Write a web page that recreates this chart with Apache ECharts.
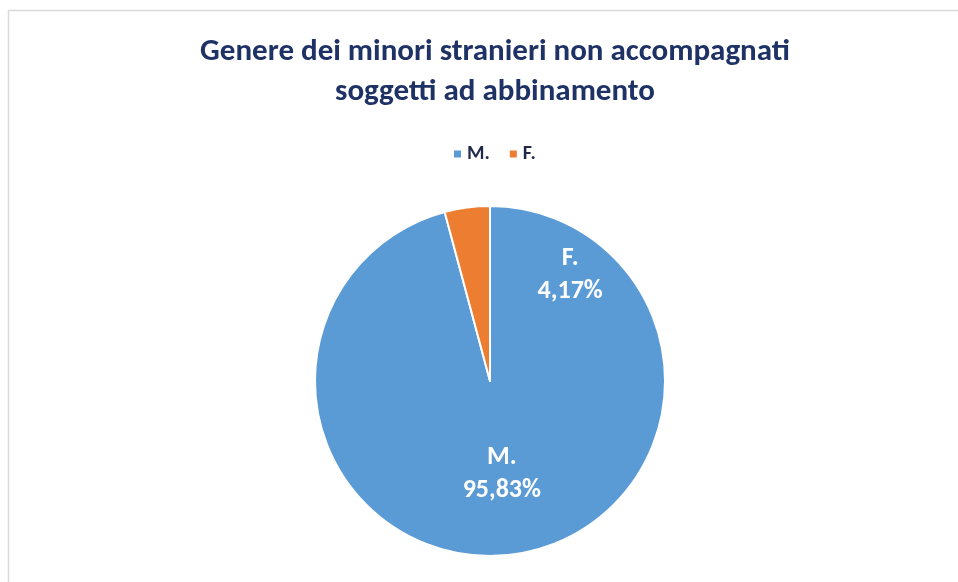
<!DOCTYPE html>
<html>
<head>
<meta charset="utf-8">
<script src="https://cdn.jsdelivr.net/npm/echarts@6/dist/echarts.min.js"></script>
<style>
  html, body { margin: 0; padding: 0; background: #fff; }
  #chart { width: 958px; height: 582px; }
</style>
</head>
<body>
<div id="chart"></div>
<script>
// dati
var categorie = ['M.', 'F.'];
var percentuali = [95.83, 4.17];
var colori = ['#5B9BD5', '#ED7D31'];

var font = 'Carlito, Lato, sans-serif';
var chart = echarts.init(document.getElementById('chart'));

var dati = [];
for (var i = 0; i < categorie.length; i++) {
	dati.push({
		name: categorie[i],
		value: percentuali[i],
		itemStyle: { color: colori[i] }
	});
}
// etichette spostate come nell'originale
dati[0].label = { offset: [0, 3] };
dati[1].label = { offset: [92, -16] };

var option = {
	animation: false,
	graphic: [{
		type: 'rect',
		shape: { x: 8.5, y: 10.5, width: 1000, height: 1000 },
		style: { fill: 'none', stroke: '#d9d9d9', lineWidth: 1.5 },
		silent: true
	}],
	title: {
		text: 'Genere dei minori stranieri non accompagnati\nsoggetti ad abbinamento',
		left: 490,
		top: 27,
		textAlign: 'center',
		textStyle: {
			fontFamily: font,
			fontSize: 31,
			fontWeight: 'bold',
			color: '#1F3266',
			lineHeight: 40
		}
	},
	legend: {
		data: categorie,
		left: 447,
		top: 139,
		icon: 'rect',
		itemWidth: 9,
		itemHeight: 9,
		itemGap: 18,
		textStyle: {
			fontFamily: font,
			fontSize: 20,
			fontWeight: 'bold',
			color: '#1F2A4A'
		}
	},
	series: [{
		type: 'pie',
		center: [490, 381],
		radius: 175,
		startAngle: 90,
		clockwise: true,
		avoidLabelOverlap: false,
		itemStyle: { borderColor: '#fff', borderWidth: 2 },
		label: {
			show: true,
			position: 'inside',
			color: '#fff',
			fontFamily: font,
			fontSize: 26,
			fontWeight: 'bold',
			lineHeight: 33,
			formatter: function (p) {
				return p.name + '\n' + p.value.toFixed(2).replace('.', ',') + '%';
			}
		},
		labelLine: { show: false },
		emphasis: { disabled: true },
		data: dati
	}]
};
chart.setOption(option);
</script>
</body>
</html>
